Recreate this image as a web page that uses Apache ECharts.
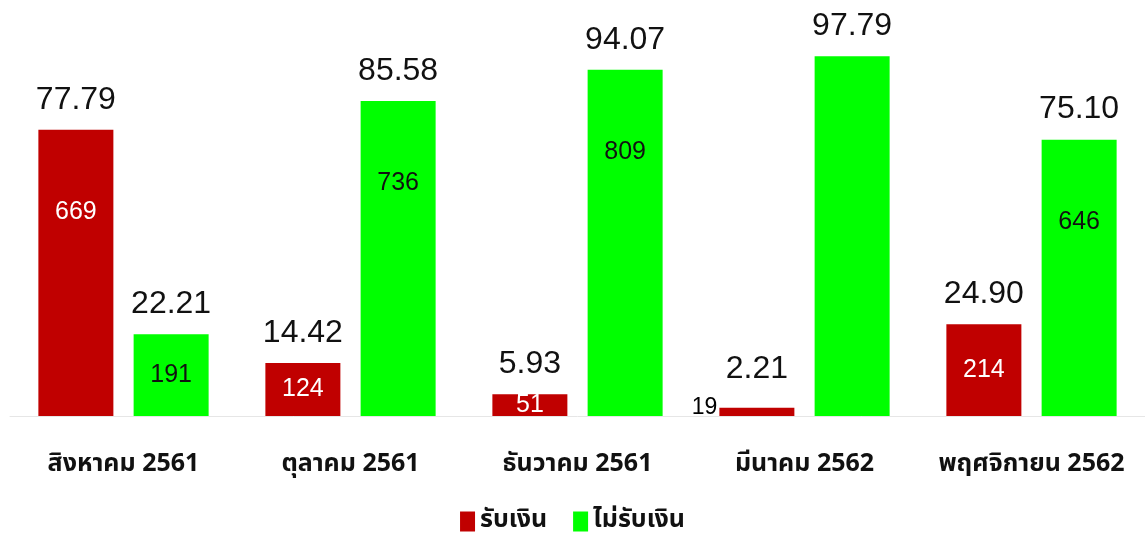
<!DOCTYPE html>
<html>
<head>
<meta charset="utf-8">
<script src="https://cdn.jsdelivr.net/npm/echarts@6/dist/echarts.min.js"></script>
<style>
  html, body { margin: 0; padding: 0; background: #fff; }
  #chart { width: 1145px; height: 536px; }
</style>
</head>
<body>
<div id="chart"></div>
<script>
const months = ['สิงหาคม 2561', 'ตุลาคม 2561', 'ธันวาคม 2561', 'มีนาคม 2562', 'พฤศจิกายน 2562'];
const seriesNames = ['รับเงิน', 'ไม่รับเงิน'];
// percentages (bar height)
const paidPct = [77.79, 14.42, 5.93, 2.21, 24.90];
const unpaidPct = [22.21, 85.58, 94.07, 97.79, 75.10];
// head counts (label inside the bar)
const paidCount = [669, 124, 51, 19, 214];
const unpaidCount = [191, 736, 809, null, 646];

const RED = '#c00000';
const GREEN = '#00ff00';
const numFont = '"Liberation Sans", Arial, sans-serif';
const thaiFont = '"Noto Sans Thai", "Loma", "Garuda", "Tlwg Typist", sans-serif';

const chart = echarts.init(document.getElementById('chart'));

// label for the count, drawn on an invisible copy of each bar
const countLabel = (pct, count, color) => {
  if (count == null) return { show: false };
  if (pct < 3) {
    return { show: true, position: 'left', distance: 2, offset: [0, -4], color: '#000', fontSize: 23 };
  }
  if (pct > 50) {
    return { show: true, position: 'insideTop', distance: 70, color, fontSize: 25 };
  }
  return { show: true, position: 'inside', color, fontSize: 25 };
};

const topSeries = (name, values, color) => ({
  name,
  type: 'bar',
  xAxisIndex: 0,
  barWidth: 75,
  barGap: '27%',
  itemStyle: { color },
  label: {
    show: true,
    position: 'top',
    distance: 14,
    color: '#111',
    fontSize: 32,
    fontFamily: numFont,
    formatter: (p) => p.value.toFixed(2),
  },
  data: values.map((v) => (v < 3 ? { value: v, label: { distance: 23 } } : v)),
});

const countSeries = (name, values, counts, textColor) => ({
  name: name + '_n',
  type: 'bar',
  xAxisIndex: 1,
  barWidth: 75,
  barGap: '27%',
  silent: true,
  itemStyle: { color: 'transparent' },
  label: { fontFamily: numFont, formatter: (p) => String(counts[p.dataIndex]) },
  data: values.map((v, i) => ({ value: v, label: countLabel(v, counts[i], textColor) })),
});

chart.setOption({
  animation: false,
  backgroundColor: '#fff',
  grid: { left: 10, right: 0, top: 48, bottom: 120 },
  legend: {
    data: seriesNames,
    bottom: -3,
    left: 'center',
    icon: 'rect',
    itemWidth: 15,
    itemHeight: 20,
    itemGap: 26,
    textStyle: { fontSize: 25, fontWeight: 'bold', color: '#111', fontFamily: thaiFont },
  },
  xAxis: [
    {
      type: 'category',
      data: months,
      axisLine: { lineStyle: { color: '#e6e6e6' } },
      axisTick: { show: false },
      axisLabel: {
        interval: 0,
        margin: 37,
        fontSize: 25,
        fontWeight: 'bold',
        color: '#111',
        fontFamily: thaiFont,
      },
    },
    { type: 'category', data: months, show: false },
  ],
  yAxis: { type: 'value', min: 0, max: 100, show: false },
  series: [
    topSeries(seriesNames[0], paidPct, RED),
    topSeries(seriesNames[1], unpaidPct, GREEN),
    countSeries(seriesNames[0], paidPct, paidCount, '#fff'),
    countSeries(seriesNames[1], unpaidPct, unpaidCount, '#111'),
  ],
});
</script>
</body>
</html>
